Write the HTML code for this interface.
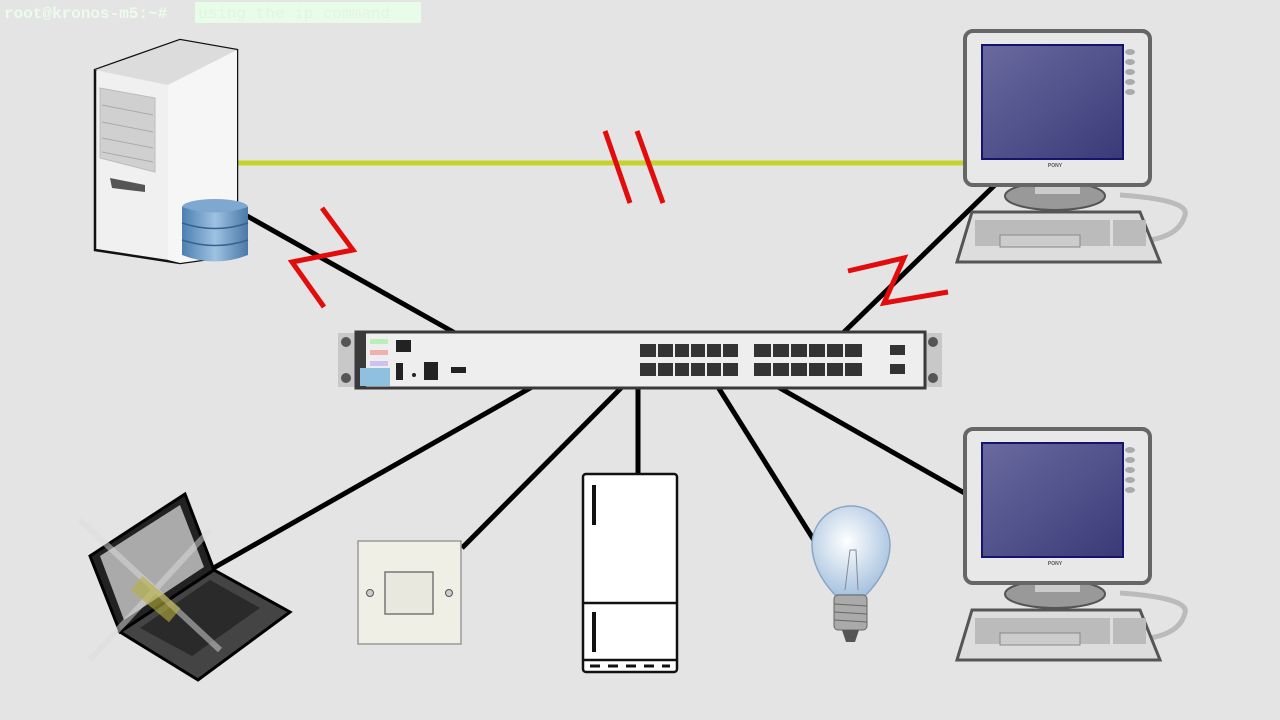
<!DOCTYPE html>
<html><head><meta charset="utf-8"><style>
html,body{margin:0;padding:0;background:#e4e4e4;}
svg{display:block}
</style></head><body>
<svg width="1280" height="720" viewBox="0 0 1280 720" xmlns="http://www.w3.org/2000/svg">
<defs>
<linearGradient id="scr" x1="0" y1="0" x2="1" y2="1"><stop offset="0" stop-color="#6a6aa0"/><stop offset="1" stop-color="#3a3a78"/></linearGradient>
<linearGradient id="db" x1="0" y1="0" x2="1" y2="0"><stop offset="0" stop-color="#4c7fb0"/><stop offset="0.5" stop-color="#9ec2e2"/><stop offset="1" stop-color="#4a78a8"/></linearGradient>
<radialGradient id="bulb" cx="0.45" cy="0.4" r="0.6"><stop offset="0" stop-color="#ffffff"/><stop offset="1" stop-color="#a9c4e0"/></radialGradient>
<g id="mon">
 <path d="M1120 195 Q1190 200 1185 215 Q1180 235 1150 240" fill="none" stroke="#bbb" stroke-width="5"/>
 <ellipse cx="1055" cy="196" rx="50" ry="14" fill="#999" stroke="#555" stroke-width="2"/>
 <rect x="1035" y="180" width="45" height="14" fill="#ccc"/>
 <rect x="965" y="31" width="185" height="154" rx="8" fill="#e8e8e8" stroke="#666" stroke-width="4"/>
 <rect x="982" y="45" width="141" height="114" fill="url(#scr)" stroke="#14146e" stroke-width="2"/>
 <text x="1055" y="167" font-family="Liberation Sans, sans-serif" font-size="5" font-weight="bold" fill="#555" text-anchor="middle">PONY</text>
 <g fill="#aaa"><ellipse cx="1130" cy="52" rx="5" ry="3"/><ellipse cx="1130" cy="62" rx="5" ry="3"/><ellipse cx="1130" cy="72" rx="5" ry="3"/><ellipse cx="1130" cy="82" rx="5" ry="3"/><ellipse cx="1130" cy="92" rx="5" ry="3"/></g>
 <path d="M972 212 L1140 212 L1160 262 L957 262 Z" fill="#ddd" stroke="#555" stroke-width="3"/>
 <rect x="975" y="220" width="135" height="26" fill="#bbb"/>
 <rect x="1113" y="220" width="33" height="26" fill="#bbb"/>
 <rect x="1000" y="235" width="80" height="12" fill="#ccc" stroke="#888"/>
</g>
</defs>
<rect width="1280" height="720" fill="#e4e4e4"/>
<text x="4" y="18" font-family="Liberation Mono, monospace" font-size="16" font-weight="bold" fill="#ecfcec">root@kronos-m5:~#</text>
<rect x="195" y="2" width="226" height="21" fill="#e8fde8"/>
<text x="198" y="18" font-family="Liberation Mono, monospace" font-size="16" fill="#e2f4e2">using the ip command</text>

<!-- lines -->
<line x1="237" y1="163" x2="968" y2="163" stroke="#c5d32a" stroke-width="5"/>
<g stroke="#000" stroke-width="5">
<line x1="240" y1="212" x2="455" y2="333"/>
<line x1="1000" y1="180" x2="843" y2="333"/>
<line x1="532" y1="387" x2="210" y2="570"/>
<line x1="622" y1="387" x2="462" y2="548"/>
<line x1="638" y1="387" x2="638" y2="476"/>
<line x1="718" y1="387" x2="822" y2="553"/>
<line x1="778" y1="387" x2="968" y2="495"/>
</g>
<!-- red marks -->
<g stroke="#e20c0c" stroke-width="5" fill="none">
<line x1="605" y1="131" x2="630" y2="203"/>
<line x1="637" y1="131" x2="663" y2="203"/>
<polyline points="322,208 353,250 292,262 324,307"/>
<polyline points="848,271 904,258 884,303 948,292"/>
</g>

<!-- server -->
<path d="M95 70 L180 40 L237 50 L237 255 L180 263 L95 250 Z" fill="#f0f0f0" stroke="#111" stroke-width="2.5"/>
<path d="M95 70 L180 40 L237 50 L168 85 Z" fill="#dcdcdc"/>
<path d="M168 85 L237 50 L237 255 L180 263 L168 260 Z" fill="#f6f6f6"/>
<path d="M100 88 L155 98 L155 172 L100 158 Z" fill="#d0d0d0" stroke="#bbb"/>
<g stroke="#aaa"><line x1="102" y1="105" x2="153" y2="115"/><line x1="102" y1="122" x2="153" y2="132"/><line x1="102" y1="138" x2="153" y2="148"/><line x1="102" y1="152" x2="153" y2="162"/></g>
<path d="M110 178 L145 185 L145 192 L112 188 Z" fill="#555"/>
<ellipse cx="215" cy="207" rx="33" ry="8" fill="#7fa8d0"/>
<path d="M182 207 L182 255 Q215 268 248 255 L248 207 Q215 218 182 207 Z" fill="url(#db)"/>
<path d="M182 223 Q215 234 248 223 M182 240 Q215 251 248 240" stroke="#3a6090" stroke-width="1.5" fill="none"/>

<!-- monitors -->
<use href="#mon"/>
<use href="#mon" transform="translate(0,398)"/>

<!-- switch -->
<rect x="338" y="333" width="604" height="54" fill="#c8c8c8"/>
<rect x="356" y="332" width="569" height="56" fill="#eeeeee" stroke="#3a3a3a" stroke-width="3"/>
<rect x="356" y="332" width="10" height="56" fill="#3a3a3a"/>
<g fill="#555"><circle cx="346" cy="342" r="5"/><circle cx="346" cy="378" r="5"/><circle cx="933" cy="342" r="5"/><circle cx="933" cy="378" r="5"/></g>
<rect x="370" y="339" width="18" height="5" fill="#b8f0b8"/>
<rect x="370" y="350" width="18" height="5" fill="#f0b0b0"/>
<rect x="370" y="361" width="18" height="5" fill="#d0c0f0"/>
<rect x="360" y="368" width="30" height="18" fill="#90c0e0"/>
<rect x="396" y="340" width="15" height="12" fill="#222"/>
<rect x="451" y="367" width="15" height="6" fill="#222"/>
<g fill="#222"><rect x="396" y="363" width="7" height="17"/><rect x="424" y="362" width="14" height="18"/><circle cx="414" cy="375" r="2"/></g>
<g fill="#333">
<rect x="640" y="344" width="98" height="13"/><rect x="640" y="363" width="98" height="13"/>
<rect x="754" y="344" width="108" height="13"/><rect x="754" y="363" width="108" height="13"/>
<rect x="890" y="345" width="15" height="10"/><rect x="890" y="364" width="15" height="10"/>
</g>
<g stroke="#eee" stroke-width="2">
<line x1="657" y1="344" x2="657" y2="376"/><line x1="674" y1="344" x2="674" y2="376"/><line x1="690" y1="344" x2="690" y2="376"/><line x1="706" y1="344" x2="706" y2="376"/><line x1="722" y1="344" x2="722" y2="376"/>
<line x1="772" y1="344" x2="772" y2="376"/><line x1="790" y1="344" x2="790" y2="376"/><line x1="808" y1="344" x2="808" y2="376"/><line x1="826" y1="344" x2="826" y2="376"/><line x1="844" y1="344" x2="844" y2="376"/>
</g>

<!-- laptop -->
<path d="M90 556 L185 494 L214 570 L120 632 Z" fill="#222" stroke="#000" stroke-width="3"/>
<path d="M100 556 L180 505 L204 567 L124 620 Z" fill="#aaa"/>
<path d="M120 632 L214 570 L290 612 L198 680 Z" fill="#444" stroke="#000" stroke-width="3"/>
<path d="M140 628 L210 580 L260 608 L192 656 Z" fill="#2a2a2a"/>
<path d="M80 520 L220 650 M90 660 L210 530" stroke="#ddd" stroke-width="6" opacity="0.5"/>
<rect x="130" y="590" width="50" height="18" fill="#b8b040" opacity="0.6" transform="rotate(40 155 600)"/>

<!-- light switch -->
<rect x="358" y="541" width="103" height="103" fill="#efefe6" stroke="#999" stroke-width="1.5"/>
<rect x="385" y="572" width="48" height="42" fill="#e8e8de" stroke="#777" stroke-width="1.5"/>
<circle cx="370" cy="593" r="3.5" fill="#ccc" stroke="#555"/>
<circle cx="449" cy="593" r="3.5" fill="#ccc" stroke="#555"/>

<!-- fridge -->
<rect x="583" y="474" width="94" height="198" rx="3" fill="#fff" stroke="#111" stroke-width="2.5"/>
<line x1="583" y1="603" x2="677" y2="603" stroke="#111" stroke-width="2.5"/>
<line x1="583" y1="660" x2="677" y2="660" stroke="#111" stroke-width="2.5"/>
<line x1="594" y1="485" x2="594" y2="525" stroke="#111" stroke-width="4"/>
<line x1="594" y1="612" x2="594" y2="652" stroke="#111" stroke-width="4"/>
<line x1="590" y1="666" x2="670" y2="666" stroke="#111" stroke-width="3" stroke-dasharray="10 8"/>

<!-- bulb -->
<path d="M835 595 Q812 570 812 545 A39 39 0 0 1 890 545 Q890 570 866 595 Z" fill="url(#bulb)" stroke="#8aa6c4" stroke-width="1.5"/>
<path d="M845 590 L850 550 L856 550 L858 590" stroke="#889" fill="none"/>
<rect x="834" y="595" width="33" height="35" rx="4" fill="#aaa" stroke="#666"/>
<g stroke="#666"><line x1="834" y1="604" x2="867" y2="606"/><line x1="834" y1="612" x2="867" y2="614"/><line x1="834" y1="620" x2="867" y2="622"/></g>
<path d="M842 630 L859 630 L855 642 L846 642 Z" fill="#555"/>
</svg>
</body></html>
